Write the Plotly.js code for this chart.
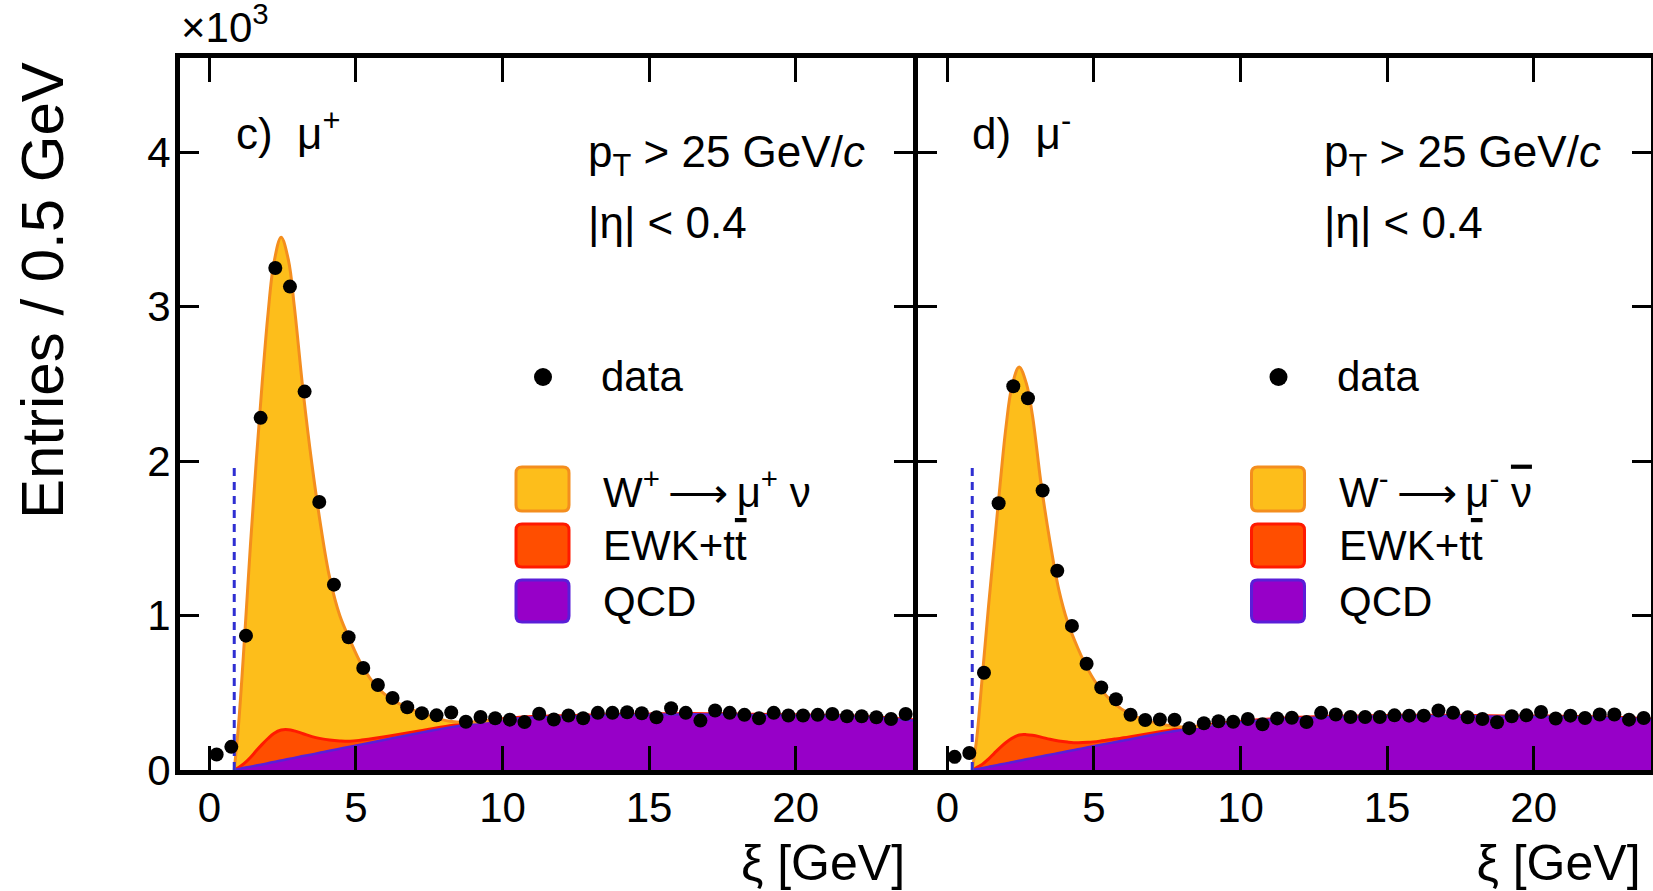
<!DOCTYPE html>
<html>
<head>
<meta charset="utf-8">
<script src="https://cdn.plot.ly/plotly-3.0.1.min.js"></script>
<style>html,body{margin:0;padding:0;background:#fff;}</style>
</head>
<body>
<div id="chart" style="width:1653px;height:891px;"></div>
<script>
// ---------------- data (in units of 10^3 entries / 0.5 GeV) ----------------
const binCenters = [0.25,0.75,1.25,1.75,2.25,2.75,3.25,3.75,4.25,4.75,5.25,5.75,6.25,6.75,7.25,7.75,
  8.25,8.75,9.25,9.75,10.25,10.75,11.25,11.75,12.25,12.75,13.25,13.75,14.25,14.75,15.25,15.75,
  16.25,16.75,17.25,17.75,18.25,18.75,19.25,19.75,20.25,20.75,21.25,21.75,22.25,22.75,23.25,23.75];

const dataMuPlus = [0.10,0.15,0.87,2.28,3.25,3.13,2.45,1.735,1.20,0.86,0.66,0.55,0.466,0.406,0.368,0.354,
  0.372,0.312,0.343,0.335,0.326,0.31,0.364,0.327,0.353,0.335,0.37,0.37,0.374,0.367,0.342,0.40,
  0.37,0.32,0.385,0.37,0.357,0.335,0.37,0.353,0.353,0.357,0.363,0.348,0.348,0.342,0.33,0.363];

const dataMuMinus = [0.085,0.11,0.63,1.727,2.485,2.407,1.81,1.29,0.933,0.688,0.534,0.458,0.358,0.324,0.327,0.325,
  0.271,0.303,0.316,0.312,0.33,0.296,0.334,0.338,0.311,0.37,0.359,0.343,0.343,0.343,0.354,0.352,
  0.352,0.385,0.37,0.341,0.33,0.309,0.348,0.354,0.376,0.333,0.352,0.337,0.359,0.359,0.326,0.337];

// model curves sampled on this grid
const xModel = [0.85,1.0,1.2,1.4,1.6,1.8,2.0,2.2,2.45,2.7,2.9,3.2,3.5,3.8,4.1,4.45,4.8,5.2,5.7,6.2,6.8,7.5,8.2,9.0,
  10,11,12,13,14,15,16,17,18,19,20,21,22,23,24];

// mu+ panel components
const qcdPlus = [0,0.006,0.014,0.021,0.029,0.036,0.044,0.052,0.061,0.071,0.078,0.09,0.101,0.113,0.124,0.138,0.151,0.166,
  0.185,0.204,0.227,0.252,0.276,0.30,0.325,0.34,0.345,0.35,0.355,0.357,0.36,0.36,0.357,0.355,0.352,0.35,0.345,0.335,0.32];
const ewkPlus = [0,0.01,0.03,0.06,0.095,0.13,0.16,0.185,0.198,0.19,0.175,0.145,0.115,0.09,0.07,0.05,0.035,0.028,
  0.022,0.018,0.015,0.012,0.01,0.008,0.007,0.006,0.006,0.006,0.005,0.005,0.005,0.005,0.005,0.005,0.005,0.005,0.005,0.005,0.005];
const wPlus = [0,0.284,0.806,1.369,1.876,2.334,2.746,3.043,3.191,3.039,2.747,2.215,1.764,1.377,1.056,0.812,0.654,0.486,
  0.333,0.238,0.158,0.086,0.029,0.002,0,0,0,0,0,0,0,0,0,0,0,0,0,0,0];

// mu- panel components
const qcdMinus = [0,0.006,0.013,0.02,0.028,0.035,0.043,0.05,0.06,0.069,0.077,0.088,0.099,0.11,0.121,0.134,0.147,0.162,
  0.18,0.198,0.22,0.244,0.266,0.288,0.31,0.325,0.335,0.342,0.345,0.348,0.35,0.35,0.348,0.345,0.345,0.343,0.34,0.335,0.325];
const ewkMinus = [0,0.01,0.025,0.05,0.08,0.11,0.135,0.155,0.167,0.16,0.148,0.125,0.1,0.078,0.06,0.042,0.032,0.025,
  0.02,0.016,0.013,0.011,0.009,0.008,0.006,0.006,0.006,0.006,0.005,0.005,0.005,0.005,0.005,0.005,0.005,0.005,0.005,0.005,0.005];
const wMinus = [0,0.184,0.582,0.98,1.342,1.705,2.042,2.275,2.383,2.271,2.075,1.637,1.281,0.982,0.779,0.614,0.471,0.343,
  0.23,0.151,0.087,0.035,0.001,0,0,0,0,0,0,0,0,0,0,0,0,0,0,0,0];

// kinematic cut marker (dashed line)
const cutXi = [0.85, 0.85];
const cutLevel = [0, 1.96];

const xTickVals = [0, 5, 10, 15, 20];
const yTickVals = [0, 1, 2, 3, 4];
const xTitle = 'ξ [GeV]';
const panelLabels = ['c)  μ<sup>+</sup>', 'd)  μ<sup>-</sup>'];
const signalLabels = ['W<sup>+</sup>\u2009⟶\u2009μ<sup>+</sup> ν',
  'W<sup>-</sup>\u2009⟶\u2009μ<sup>-</sup> <span style="text-decoration:overline">ν</span>'];
const otherLabels = ['EWK+t<span style="text-decoration:overline">t</span>', 'QCD'];

// ---------------- styling ----------------
const FONT = 'Liberation Sans, Arial, Helvetica, sans-serif';
const C = {
  wFill: '#FDBE1B', wLine: '#F48E1E',
  eFill: '#FF4E00', eLine: '#FF1A00',
  qFill: '#9700C8', qLine: '#5A1ED8',
  cut: '#2F2FD2'
};

const L = 180, R = 1651, T = 58, B = 770;
const PW = R - L, PH = B - T, OFF = PW / 2;
const xp = px => (px - L) / PW;
const yp = py => (B - py) / PH;
const LW = 5;
const GAP = (LW / 2) / PW;   // lets the two frame lines at the divider coincide

function panelTraces(xa, ya, data, qcd, ewk, wsig) {
  const stackE = qcd.map((q, i) => q + ewk[i]);
  const stackT = stackE.map((s, i) => s + wsig[i]);
  let last = 0;
  wsig.forEach((v, i) => { if (v > 0) last = i; });
  const n = Math.min(last + 2, xModel.length);
  const common = {xaxis: xa, yaxis: ya, mode: 'lines', hoverinfo: 'skip', showlegend: false};
  return [
    Object.assign({}, common, {x: xModel, y: qcd, fill: 'tozeroy', fillcolor: C.qFill, line: {width: 0, shape: 'spline'}}),
    Object.assign({}, common, {x: xModel, y: stackE, fill: 'tonexty', fillcolor: C.eFill, line: {width: 0, shape: 'spline'}}),
    Object.assign({}, common, {x: xModel, y: stackT, fill: 'tonexty', fillcolor: C.wFill, line: {width: 0, shape: 'spline'}}),
    Object.assign({}, common, {x: xModel, y: stackE, line: {color: C.eLine, width: 3, shape: 'spline'}}),
    Object.assign({}, common, {x: xModel, y: qcd, line: {color: C.qLine, width: 2.5, shape: 'spline'}}),
    Object.assign({}, common, {x: xModel.slice(0, n), y: stackT.slice(0, n), line: {color: C.wLine, width: 3, shape: 'spline'}}),
    Object.assign({}, common, {x: cutXi, y: cutLevel, line: {color: C.cut, width: 3, dash: '8px,6px'}}),
    {x: binCenters, y: data, xaxis: xa, yaxis: ya, mode: 'markers', showlegend: false,
     marker: {color: '#000', size: 14}, hoverinfo: 'x+y'}
  ];
}

const traces = [].concat(
  panelTraces('x', 'y', dataMuPlus, qcdPlus, ewkPlus, wPlus),
  panelTraces('x2', 'y2', dataMuMinus, qcdMinus, ewkMinus, wMinus),
  // empty carriers for the right-aligned axis titles
  [{x: [], y: [], xaxis: 'x3', yaxis: 'y', mode: 'lines', showlegend: false, hoverinfo: 'skip'},
   {x: [], y: [], xaxis: 'x4', yaxis: 'y2', mode: 'lines', showlegend: false, hoverinfo: 'skip'}]
);

function xAxis(domain, anchor) {
  return {domain: domain, anchor: anchor, range: [-1, 24], tickvals: xTickVals, ticks: 'inside',
    ticklen: 24, tickwidth: 3, tickcolor: '#000', showline: true, linewidth: LW, linecolor: '#000',
    mirror: 'ticks', showgrid: false, zeroline: false, ticklabelstandoff: -3,
    tickfont: {family: FONT, size: 42, color: '#000'}};
}
function titleAxis(centerPx, anchor) {
  const c = xp(centerPx);
  return {domain: [c - 0.005, c + 0.005], anchor: anchor, range: [0, 1], showline: false, ticks: '',
    showticklabels: false, showgrid: false, zeroline: false, automargin: false,
    title: {text: xTitle, standoff: 95, font: {family: FONT, size: 50, color: '#000'}}};
}
function yAxis(anchor, labels) {
  return {domain: [0, 1], anchor: anchor, range: [0, 4.61], tickvals: yTickVals, ticks: 'inside',
    ticklen: 19, tickwidth: 3, tickcolor: '#000', showline: true, linewidth: LW, linecolor: '#000',
    mirror: 'ticks', showgrid: false, zeroline: false, showticklabels: labels, ticklabelstandoff: -4,
    tickfont: {family: FONT, size: 42, color: '#000'}};
}

const annotations = [];
const shapes = [];
function txt(text, px, py, size, xanchor, extra) {
  annotations.push(Object.assign({xref: 'paper', yref: 'paper', x: xp(px), y: yp(py), text: text,
    showarrow: false, xanchor: xanchor || 'left', yanchor: 'middle',
    font: {family: FONT, size: size, color: '#000'}}, extra || {}));
}
function roundBox(x0, y0, x1, y1, fill, line) {
  const r = 6;
  const X = v => xp(v).toFixed(5), Y = v => yp(v).toFixed(5);
  const path = 'M' + X(x0 + r) + ',' + Y(y0) + ' L' + X(x1 - r) + ',' + Y(y0) +
    ' Q' + X(x1) + ',' + Y(y0) + ' ' + X(x1) + ',' + Y(y0 + r) +
    ' L' + X(x1) + ',' + Y(y1 - r) + ' Q' + X(x1) + ',' + Y(y1) + ' ' + X(x1 - r) + ',' + Y(y1) +
    ' L' + X(x0 + r) + ',' + Y(y1) + ' Q' + X(x0) + ',' + Y(y1) + ' ' + X(x0) + ',' + Y(y1 - r) +
    ' L' + X(x0) + ',' + Y(y0 + r) + ' Q' + X(x0) + ',' + Y(y0) + ' ' + X(x0 + r) + ',' + Y(y0) + ' Z';
  shapes.push({type: 'path', xref: 'paper', yref: 'paper', path: path, fillcolor: fill,
    line: {color: line, width: 3}, layer: 'above'});
}

[0, 1].forEach(p => {
  const o = p * OFF;
  txt(panelLabels[p], 234 + o, 130, 44);
  txt('p<sub>T</sub> > 25 GeV/<i>c</i>', 586 + o, 155, 44);
  txt('|η| < 0.4', 586 + o, 222, 44);
  // legend
  shapes.push({type: 'circle', xref: 'paper', yref: 'paper', x0: xp(534 + o), x1: xp(552 + o),
    y0: yp(386), y1: yp(368), fillcolor: '#000', line: {width: 0}});
  txt('data', 599 + o, 377, 42);
  roundBox(516 + o, 467, 569 + o, 511, C.wFill, C.wLine);
  roundBox(516 + o, 524, 569 + o, 567, C.eFill, C.eLine);
  roundBox(516 + o, 580, 569 + o, 622, C.qFill, C.qLine);
  txt(signalLabels[p], 601 + o, 489, 42);
  txt(otherLabels[0], 601 + o, 545, 42);
  txt(otherLabels[1], 601 + o, 601, 42);
});
txt('×10<sup>3</sup>', 179, 24, 42);
txt('Entries / 0.5 GeV', 42, 291, 60, 'center', {textangle: -90});

const layout = {
  width: 1653, height: 891,
  margin: {l: L, r: 1653 - R, t: T, b: 891 - B, pad: 0},
  paper_bgcolor: '#fff', plot_bgcolor: 'rgba(0,0,0,0)',
  showlegend: false,
  font: {family: FONT, color: '#000'},
  xaxis: xAxis([0, 0.5 - GAP], 'y'),
  xaxis2: xAxis([0.5 + GAP, 1], 'y2'),
  xaxis3: titleAxis(823, 'y'),
  xaxis4: titleAxis(823 + OFF, 'y2'),
  yaxis: yAxis('x', true),
  yaxis2: yAxis('x2', false),
  annotations: annotations,
  shapes: shapes
};

Plotly.newPlot('chart', traces, layout, {displayModeBar: false, staticPlot: true});
</script>
</body>
</html>
